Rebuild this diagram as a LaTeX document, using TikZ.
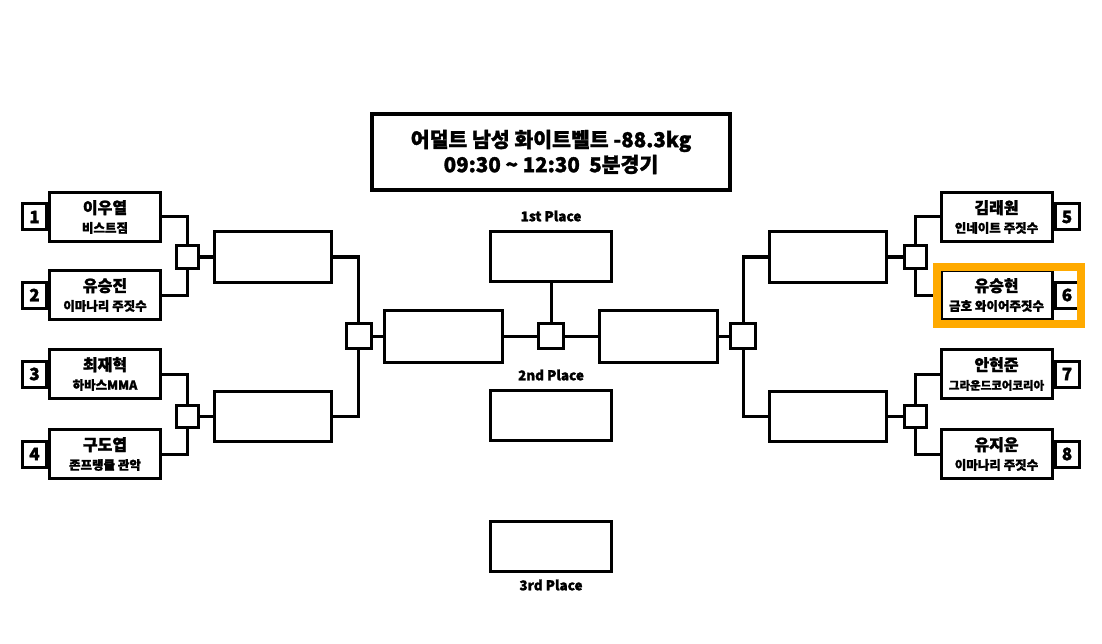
\documentclass[tikz,border=0pt]{standalone}
\usepackage{fontspec}
\setmainfont{Noto Sans CJK KR}[BoldFeatures={FakeBold=1.5}]
\usepackage{tikz}
\usetikzlibrary{positioning}
\definecolor{markorange}{RGB}{255,170,0}

\begin{document}
\begin{tikzpicture}[
  x=1pt,y=-1pt,
  every node/.style={font=\bfseries},
  player/.style={draw,line width=3,minimum width=111,minimum height=49,inner sep=0,align=center,
    font=\bfseries\fontsize{12.5}{19}\selectfont},
  seed/.style={draw,line width=3,minimum width=24,minimum height=26,inner sep=0,
    font=\bfseries\fontsize{17}{17}\selectfont},
  hub/.style={draw,line width=3,minimum size=22,inner sep=0},
  semihub/.style={hub,minimum size=25},
  slot/.style={draw,line width=3,minimum width=117,minimum height=50,inner sep=0},
  final/.style={slot,minimum width=118,minimum height=52},
  medal/.style={slot,minimum width=121,minimum height=50},
  place/.style={font=\bfseries\fontsize{13.5}{13.5}\selectfont},
  link/.style={draw,line width=3}
]
\useasboundingbox (0,0) rectangle (1102,644);

% title
\node[draw,line width=3.5,minimum width=358,minimum height=76,align=center,
  font=\bfseries\fontsize{20.5}{25}\selectfont] (title) at (551,152)
  {어덜트 남성 화이트벨트 -88.3kg\\09:30 {\char"007E} 12:30\ \ 5분경기};

% left half
\node[player] (p1) at (105,217) {{\fontsize{16}{19}\selectfont 이우열}\\비스트짐};
\node[player] (p2) at (105,295) {{\fontsize{16}{19}\selectfont 유승진}\\이마나리 주짓수};
\node[player] (p3) at (105,374) {{\fontsize{16}{19}\selectfont 최재혁}\\하바스MMA};
\node[player] (p4) at (105,454) {{\fontsize{16}{19}\selectfont 구도엽}\\존프랭클 관악};
\node[seed,left=0pt of p1] (n1) {1};
\node[seed,left=0pt of p2] (n2) {2};
\node[seed,left=0pt of p3] (n3) {3};
\node[seed,left=0pt of p4] (n4) {4};

\node[hub] (h1) at (187.5,257) {};
\node[hub] (h2) at (187.5,416) {};
\node[slot] (q1) at (273,257) {};
\node[slot] (q2) at (273,416) {};
\node[semihub] (hs1) at (358.5,336) {};
\node[final] (f1) at (443.5,336) {};

% right half
\node[player] (p5) at (996.5,217) {{\fontsize{16}{19}\selectfont 김래원}\\인네이트 주짓수};
\node[player] (p6) at (996.5,295) {{\fontsize{16}{19}\selectfont 유승현}\\금호 와이어주짓수};
\node[player] (p7) at (996.5,374) {{\fontsize{16}{19}\selectfont 안현준}\\{\fontsize{11.5}{19}\selectfont 그라운드코어코리아}};
\node[player] (p8) at (996.5,454) {{\fontsize{16}{19}\selectfont 유지운}\\이마나리 주짓수};
\node[seed,right=0pt of p5] (n5) {5};
\node[seed,right=0pt of p6] (n6) {6};
\node[seed,right=0pt of p7] (n7) {7};
\node[seed,right=0pt of p8] (n8) {8};

\node[hub] (h3) at (915,257) {};
\node[hub] (h4) at (915,416) {};
\node[slot] (q3) at (828,257) {};
\node[slot] (q4) at (828,416) {};
\node[semihub] (hs2) at (743,336) {};
\node[final] (f2) at (658,336) {};

% centre
\node[semihub] (hc) at (551,336) {};
\node[medal] (gold) at (551,256.5) {};
\node[medal] (silver) at (551,415) {};
\node[medal] (bronze) at (551,546) {};
\node[place] (goldlbl) at (551,216) {1st Place};
\node[place] (silverlbl) at (551,375) {2nd Place};
\node[place] (bronzelbl) at (551,585) {3rd Place};

% connectors
\path[link] (p1.east) -| (h1.north);
\path[link] (p2.east) -| (h1.south);
\path[link] (p3.east) -| (h2.north);
\path[link] (p4.east) -| (h2.south);
\path[link] (h1.east) -- (q1.west);
\path[link] (h2.east) -- (q2.west);
\path[link] (q1.east) -| (hs1.north);
\path[link] (q2.east) -| (hs1.south);
\path[link] (hs1.east) -- (f1.west);
\path[link] (f1.east) -- (hc.west);

\path[link] (p5.west) -| (h3.north);
\path[link] (p6.west) -| (h3.south);
\path[link] (p7.west) -| (h4.north);
\path[link] (p8.west) -| (h4.south);
\path[link] (h3.west) -- (q3.east);
\path[link] (h4.west) -- (q4.east);
\path[link] (q3.west) -| (hs2.north);
\path[link] (q4.west) -| (hs2.south);
\path[link] (hs2.west) -- (f2.east);
\path[link] (f2.west) -- (hc.east);
\path[link] (gold.south) -- (hc.north);

% highlight
\draw[line width=8,markorange] (937,267) rectangle (1081,324);
\end{tikzpicture}
\end{document}
